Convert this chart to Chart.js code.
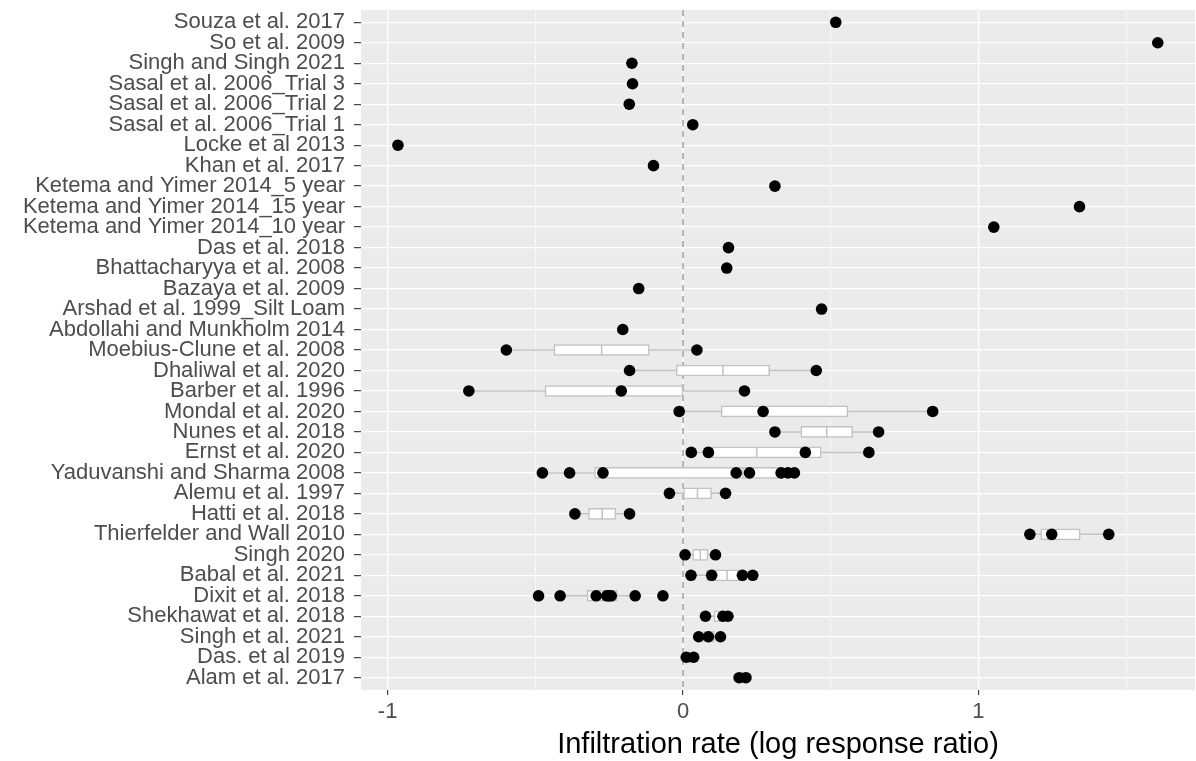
<!DOCTYPE html>
<html>
<head>
<meta charset="utf-8">
<script src="https://cdn.jsdelivr.net/npm/chart.js@4.4.1/dist/chart.umd.min.js"></script>
<style>
  html, body { margin: 0; padding: 0; background: #ffffff; }
  #wrap { width: 1196px; height: 761px; }
</style>
</head>
<body>
<div id="wrap"><canvas id="chart"></canvas></div>
<script>
// Studies, listed from the top row to the bottom row
const studies = [
  'Souza et al. 2017',
  'So et al. 2009',
  'Singh and Singh 2021',
  'Sasal et al. 2006_Trial 3',
  'Sasal et al. 2006_Trial 2',
  'Sasal et al. 2006_Trial 1',
  'Locke et al 2013',
  'Khan et al. 2017',
  'Ketema and Yimer 2014_5 year',
  'Ketema and Yimer 2014_15 year',
  'Ketema and Yimer 2014_10 year',
  'Das et al. 2018',
  'Bhattacharyya et al. 2008',
  'Bazaya et al. 2009',
  'Arshad et al. 1999_Silt Loam',
  'Abdollahi and Munkholm 2014',
  'Moebius-Clune et al. 2008',
  'Dhaliwal et al. 2020',
  'Barber et al. 1996',
  'Mondal et al. 2020',
  'Nunes et al. 2018',
  'Ernst et al. 2020',
  'Yaduvanshi and Sharma 2008',
  'Alemu et al. 1997',
  'Hatti et al. 2018',
  'Thierfelder and Wall 2010',
  'Singh 2020',
  'Babal et al. 2021',
  'Dixit et al. 2018',
  'Shekhawat et al. 2018',
  'Singh et al. 2021',
  'Das. et al 2019',
  'Alam et al. 2017'
];

// Log response ratios of infiltration rate, one list per study (same order)
const lrr = [
  [0.517],
  [1.607],
  [-0.173],
  [-0.171],
  [-0.182],
  [0.033],
  [-0.965],
  [-0.100],
  [0.311],
  [1.342],
  [1.052],
  [0.154],
  [0.148],
  [-0.150],
  [0.469],
  [-0.204],
  [-0.598, 0.047],
  [-0.181, 0.451],
  [-0.725, -0.209, 0.208],
  [-0.013, 0.271, 0.845],
  [0.311, 0.662],
  [0.028, 0.086, 0.414, 0.629],
  [-0.476, -0.384, -0.271, 0.180, 0.225, 0.332, 0.355, 0.377],
  [-0.046, 0.144],
  [-0.366, -0.181],
  [1.174, 1.248, 1.441],
  [0.007, 0.110],
  [0.027, 0.097, 0.201, 0.236],
  [-0.489, -0.416, -0.294, -0.258, -0.250, -0.243, -0.162, -0.068],
  [0.076, 0.135, 0.152],
  [0.053, 0.086, 0.127],
  [0.011, 0.036],
  [0.190, 0.213]
];

// x axis: gridlines every 0.5, labels on the whole numbers
const xGridValues = [-1, -0.5, 0, 0.5, 1, 1.5];
const xLabelValues = [-1, 0, 1];
const xTitle = 'Infiltration rate (log response ratio)';

// Axis limits
const xMin = -1.09, xMax = 1.733;
const yMin = 0.4, yMax = studies.length + 0.6;

// Tukey box statistics (type-7 quantiles, whiskers at 1.5 IQR)
function quantile(sorted, p) {
  const h = (sorted.length - 1) * p;
  const lo = Math.floor(h), hi = Math.ceil(h);
  return sorted[lo] + (h - lo) * (sorted[hi] - sorted[lo]);
}
function boxStats(vals) {
  const s = [...vals].sort((a, b) => a - b);
  const q1 = quantile(s, 0.25), med = quantile(s, 0.5), q3 = quantile(s, 0.75);
  const iqr = q3 - q1;
  const inside = s.filter(v => v >= q1 - 1.5 * iqr && v <= q3 + 1.5 * iqr);
  return { q1, med, q3, lo: Math.min(...inside), hi: Math.max(...inside) };
}

const pointData = [];
const boxData = [];
const medianData = [];
const whiskerData = [];
studies.forEach((name, i) => {
  const row = i + 1;
  lrr[i].forEach(v => pointData.push({ x: v, y: row }));
  if (lrr[i].length > 1) {
    const b = boxStats(lrr[i]);
    boxData.push({ y: row, x: [b.q1, b.q3] });
    medianData.push({ x: b.med, y: row });
    whiskerData.push({ x: b.lo, y: row }, { x: b.hi, y: row }, { x: null, y: null });
  }
});

const boxGrey = '#c2c2c2';
const textGrey = '#4d4d4d';
const fontFamily = "'Liberation Sans', Arial, Helvetica, sans-serif";
const labelFont = { family: fontFamily, size: 22, lineHeight: 1.2 };

// grey panel behind the plotting area
const panelBackground = {
  id: 'panelBackground',
  beforeDraw(chart) {
    const { ctx, chartArea: a } = chart;
    ctx.save();
    ctx.fillStyle = '#ebebeb';
    ctx.fillRect(a.left, a.top, a.right - a.left, a.bottom - a.top);
    ctx.restore();
  }
};

const isLabelled = v => xLabelValues.includes(v);

new Chart(document.getElementById('chart'), {
  type: 'scatter',
  data: {
    datasets: [
      {
        type: 'scatter',
        label: 'observations',
        data: pointData,
        pointRadius: 5.8,
        pointHoverRadius: 5.8,
        pointBackgroundColor: '#000000',
        pointBorderWidth: 0,
        order: 0
      },
      {
        type: 'scatter',
        label: 'median',
        data: medianData,
        pointStyle: 'line',
        rotation: 90,
        pointRadius: 5.5,
        pointHoverRadius: 5.5,
        pointBorderColor: boxGrey,
        pointBorderWidth: 1.5,
        order: 1
      },
      {
        type: 'bar',
        label: 'IQR',
        indexAxis: 'y',
        data: boxData,
        backgroundColor: '#ffffff',
        borderColor: boxGrey,
        borderWidth: 1.5,
        borderSkipped: false,
        barThickness: 11,
        order: 2
      },
      {
        type: 'line',
        label: 'whiskers',
        data: whiskerData,
        borderColor: boxGrey,
        borderWidth: 1.5,
        pointRadius: 0,
        spanGaps: false,
        fill: false,
        order: 3
      },
      {
        type: 'line',
        label: 'zero',
        data: [{ x: 0, y: yMin }, { x: 0, y: yMax }],
        borderColor: '#8a8a8a',
        borderWidth: 1.2,
        borderDash: [6, 5],
        pointRadius: 0,
        fill: false,
        order: 4
      }
    ]
  },
  options: {
    responsive: true,
    maintainAspectRatio: false,
    animation: false,
    events: [],
    layout: { autoPadding: false, padding: { top: 10, right: 1, left: 0, bottom: 0 } },
    plugins: { legend: { display: false }, tooltip: { enabled: false } },
    scales: {
      x: {
        type: 'linear',
        position: 'bottom',
        min: xMin,
        max: xMax,
        offset: false,
        afterBuildTicks: s => { s.ticks = xGridValues.map(v => ({ value: v })); },
        afterFit: s => { s.height = 71; s.paddingLeft = 0; s.paddingRight = 0; },
        border: { display: false },
        grid: {
          offset: false,
          color: '#ffffff',
          lineWidth: c => (c.tick && isLabelled(c.tick.value)) ? 1.3 : 0.6,
          drawTicks: true,
          tickLength: 5,
          tickWidth: 1.1,
          tickColor: c => (c.tick && isLabelled(c.tick.value)) ? '#333333' : 'rgba(0,0,0,0)'
        },
        ticks: {
          autoSkip: false,
          maxRotation: 0,
          padding: 4,
          color: textGrey,
          font: labelFont,
          callback: v => isLabelled(v) ? String(v) : ''
        },
        title: {
          display: true,
          text: xTitle,
          color: '#000000',
          font: { family: fontFamily, size: 29, lineHeight: 1.1 },
          padding: { top: 2, bottom: 0 }
        }
      },
      y: {
        type: 'linear',
        position: 'left',
        reverse: true,
        min: yMin,
        max: yMax,
        offset: false,
        afterBuildTicks: s => { s.ticks = studies.map((_, i) => ({ value: i + 1 })); },
        afterFit: s => { s.width = 361; s.paddingTop = 0; s.paddingBottom = 0; },
        border: { display: false },
        grid: {
          offset: false,
          color: '#ffffff',
          lineWidth: 1.3,
          drawTicks: true,
          tickLength: 7,
          tickWidth: 1.1,
          tickColor: '#333333'
        },
        ticks: {
          autoSkip: false,
          padding: 9,
          color: textGrey,
          font: labelFont,
          callback: v => studies[v - 1] || ''
        }
      }
    }
  },
  plugins: [panelBackground]
});
</script>
</body>
</html>
